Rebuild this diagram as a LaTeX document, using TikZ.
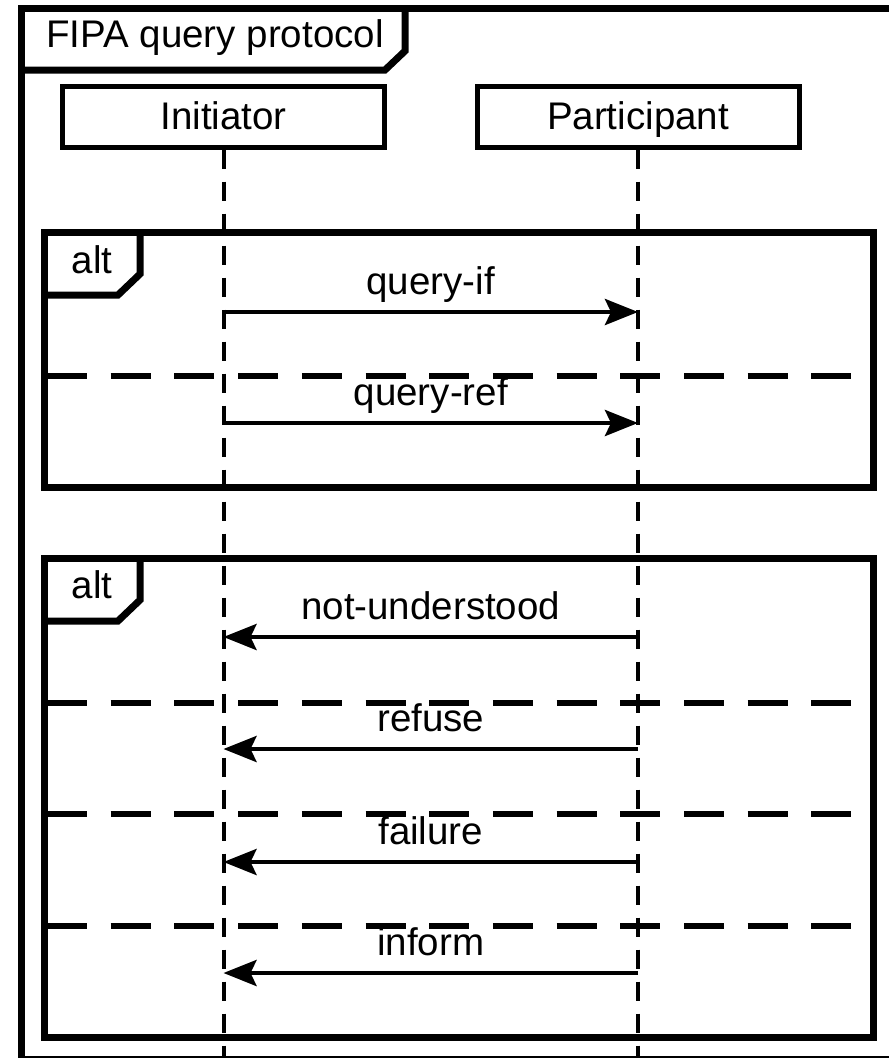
\documentclass[tikz,border=0pt]{standalone}
\usepackage{fontspec}
\setmainfont{Liberation Sans}
\usetikzlibrary{arrows.meta,positioning}
\tikzstyle{head} = [rectangle, draw=black, line width=5pt, minimum width=322pt, minimum height=61pt, inner sep=0pt, text height=26pt, text depth=0pt]
\tikzstyle{life} = [black, line width=4pt, dash pattern=on 19pt off 13pt]
\tikzstyle{frame} = [black, line width=7pt, line join=miter]
\tikzstyle{sep} = [black, line width=6pt, dash pattern=on 40pt off 23.7pt]
\tikzstyle{msg} = [black, line width=4.5pt, -{Stealth[length=33pt, width=26pt, inset=6pt]}]
\tikzstyle{lbl} = [anchor=base, inner sep=0pt, yshift=18pt]

\begin{document}
\begin{tikzpicture}[x=1pt, y=-1pt, font=\fontsize{38.5}{45}\selectfont]
		\useasboundingbox (0,0) rectangle (889,1058);
		\clip (0,0) rectangle (889,1058);

		\begin{scope}[every node/.style={head}]
			\node (ini) at (223.5,116.5) {Initiator};
			\node (par) at (638,116.5) {Participant};
		\end{scope}

		\coordinate (iend) at (223.5,1070);
		\coordinate (pend) at (638,1070);
		\draw[life] (ini.south) -- (iend);
		\draw[life] (par.south) -- (pend);

		% outer frame
		\draw[frame] (21.5,8) rectangle (900,1059.5);
		\draw[frame] (21.5,70) -- (385,70) -- (405,51) -- (405,8);
		\node[anchor=base] (title) at (215,47) {FIPA query protocol};

		% first alt
		\draw[frame] (44,232) rectangle (873,487);
		\draw[frame] (44,295) -- (118,295) -- (140,274) -- (140,232);
		\node[anchor=base] (alta) at (92,273) {alt};
		\draw[sep] (47,376) -- (870,376);

		% second alt
		\draw[frame] (44,558) rectangle (873,1037);
		\draw[frame] (44,621) -- (118,621) -- (140,600) -- (140,558);
		\node[anchor=base] (altb) at (92,598) {alt};
		\draw[sep] (47,703) -- (870,703);
		\draw[sep] (47,814) -- (870,814);
		\draw[sep] (47,926) -- (870,926);

		\foreach \n/\y in {1/312, 2/423, 3/637, 4/749, 5/862, 6/973} {
			\coordinate (i\n) at (223.5,\y);
			\coordinate (p\n) at (638,\y);
		}

		\begin{scope}[every node/.style={lbl}]
			\draw[msg] (i1) -- node (qif) {query-if} (p1);
			\draw[msg] (i2) -- node (qref) {query-ref} (p2);
			\draw[msg] (p3) -- node (nu) {not-understood} (i3);
			\draw[msg] (p4) -- node (ref) {refuse} (i4);
			\draw[msg] (p5) -- node (fail) {failure} (i5);
			\draw[msg] (p6) -- node (inf) {inform} (i6);
		\end{scope}
	\end{tikzpicture}
\end{document}
